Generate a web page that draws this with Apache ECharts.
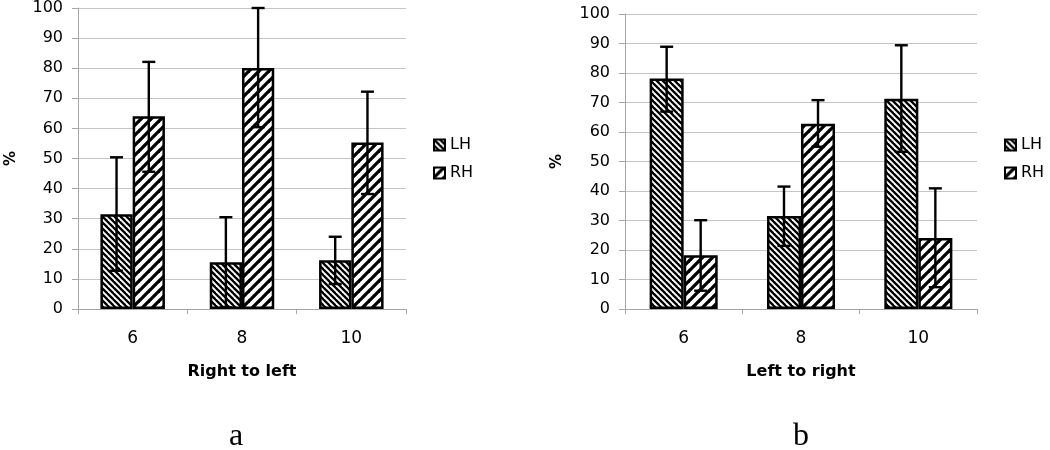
<!DOCTYPE html>
<html>
<head>
<meta charset="utf-8">
<script src="https://cdn.jsdelivr.net/npm/echarts@6/dist/echarts.min.js"></script>
<style>html,body{margin:0;padding:0;background:#fff}#c{width:1050px;height:450px}</style>
</head>
<body>
<div id="c"></div>
<script>
const categories = ['6', '8', '10'];
const seriesNames = ['LH', 'RH'];
// Panel a: Right to left
const aLH = [31.5, 15.5, 16.2];
const aLHLow = [12.7, 0.5, 8.3];
const aLHHigh = [50.4, 30.5, 24.0];
const aRH = [64.0, 80.1, 55.3];
const aRHLow = [45.6, 60.4, 38.2];
const aRHHigh = [82.1, 100, 72.2];
// Panel b: Left to right
const bLH = [78.1, 31.5, 71.3];
const bLHLow = [66.9, 21.4, 53.3];
const bLHHigh = [88.9, 41.5, 89.4];
const bRH = [18.2, 62.8, 24.1];
const bRHLow = [6.2, 55.0, 7.4];
const bRHHigh = [30.1, 70.8, 40.9];
const yTicks = [0, 10, 20, 30, 40, 50, 60, 70, 80, 90, 100];
const panelLabels = ['a', 'b'];

function makePattern(p, lw, dir) {
  const cv = document.createElement('canvas');
  cv.width = p; cv.height = p;
  const ctx = cv.getContext('2d');
  ctx.fillStyle = '#fff';
  ctx.fillRect(0, 0, p, p);
  ctx.strokeStyle = '#000';
  ctx.lineWidth = lw;
  for (let k = -1; k <= 1; k++) {
    ctx.beginPath();
    if (dir === 'back') {
      ctx.moveTo(k * p - 1, -1);
      ctx.lineTo(k * p + p + 1, p + 1);
    } else {
      ctx.moveTo(k * p - 1, p + 1);
      ctx.lineTo(k * p + p + 1, -1);
    }
    ctx.stroke();
  }
  return { image: cv, repeat: 'repeat' };
}
const patLH = makePattern(6, 2.3, 'back');
const patRH = makePattern(10, 3.3, 'fwd');

const FONT = '"DejaVu Sans", "Liberation Sans", sans-serif';
const SERIF = '"Liberation Serif", "DejaVu Serif", serif';
const gapA = 0.41, gapB = 0.42;

function errRender(gap) {
  return function (params, api) {
    const c = api.value(0), lo = api.value(1), hi = api.value(2), s = api.value(3);
    const catW = api.size([1, 0])[0];
    const bw = catW * (1 - gap) / 2;
    const pLo = api.coord([c, lo]);
    const pHi = api.coord([c, hi]);
    const x = pLo[0] + (s === 0 ? -bw / 2 : bw / 2);
    const cap = 6.5;
    const st = { stroke: '#000', lineWidth: 2.4 };
    return {
      type: 'group',
      children: [
        { type: 'line', shape: { x1: x, y1: pLo[1], x2: x, y2: pHi[1] }, style: st },
        { type: 'line', shape: { x1: x - cap, y1: pHi[1], x2: x + cap, y2: pHi[1] }, style: st },
        { type: 'line', shape: { x1: x - cap, y1: pLo[1], x2: x + cap, y2: pLo[1] }, style: st }
      ]
    };
  };
}
function errData(lowL, highL, lowR, highR) {
  const d = [];
  for (let i = 0; i < categories.length; i++) {
    d.push([i, lowL[i], highL[i], 0]);
    d.push([i, lowR[i], highR[i], 1]);
  }
  return d;
}

function xAxis(gi, name) {
  return {
    type: 'category', gridIndex: gi, data: categories,
    axisLine: { lineStyle: { color: '#a6a6a6', width: 1 } },
    axisTick: { show: true, length: 5, lineStyle: { color: '#a6a6a6' } },
    axisLabel: { color: '#000', fontSize: 17, fontFamily: FONT, margin: 21 },
    name: name, nameLocation: 'middle', nameGap: 55,
    nameTextStyle: { color: '#000', fontSize: 16, fontWeight: 'bold', fontFamily: FONT }
  };
}
function yAxis(gi, gap) {
  return {
    type: 'value', gridIndex: gi, min: 0, max: 100, interval: 10,
    axisLine: { show: true, lineStyle: { color: '#a6a6a6', width: 1 } },
    axisTick: { show: true, length: 6, lineStyle: { color: '#a6a6a6' } },
    splitLine: { show: true, lineStyle: { color: '#c4c4c4', width: 1 } },
    axisLabel: { color: '#000', fontSize: 16, fontFamily: FONT, margin: 15,
      formatter: function (v) { return yTicks.indexOf(v) >= 0 ? String(v) : ''; } },
    name: '%', nameLocation: 'middle', nameGap: gap, nameRotate: 90,
    nameTextStyle: { color: '#000', fontSize: 15, fontWeight: 'bold', fontFamily: FONT }
  };
}
function bar(name, gi, data, pat, gap) {
  return {
    type: 'bar', name: name, xAxisIndex: gi, yAxisIndex: gi, data: data,
    barGap: '0%', barCategoryGap: (gap * 100) + '%', z: 2,
    itemStyle: { color: pat, borderColor: '#000', borderWidth: 2.5 },
    emphasis: { disabled: true }, animation: false
  };
}

const option = {
  animation: false,
  backgroundColor: '#fff',
  grid: [
    { left: 78, top: 8, width: 328, height: 301, containLabel: false, outerBoundsMode: 'none' },
    { left: 625, top: 14, width: 352, height: 295, containLabel: false, outerBoundsMode: 'none' }
  ],
  xAxis: [xAxis(0, 'Right to left'), xAxis(1, 'Left to right')],
  yAxis: [yAxis(0, 59), yAxis(1, 60)],
  legend: [
    { data: seriesNames, orient: 'vertical', left: 433, top: 137, padding: 0, itemWidth: 11, itemHeight: 11,
      itemGap: 12, icon: 'rect', selectedMode: false,
      textStyle: { color: '#000', fontSize: 16, fontFamily: FONT } },
    { data: seriesNames, orient: 'vertical', left: 1004, top: 137, padding: 0, itemWidth: 11, itemHeight: 11,
      itemGap: 12, icon: 'rect', selectedMode: false,
      textStyle: { color: '#000', fontSize: 16, fontFamily: FONT } }
  ],
  series: [
    bar('LH', 0, aLH, patLH, gapA),
    bar('RH', 0, aRH, patRH, gapA),
    bar('LH', 1, bLH, patLH, gapB),
    bar('RH', 1, bRH, patRH, gapB),
    { type: 'custom', name: 'errA', xAxisIndex: 0, yAxisIndex: 0, z: 5,
      renderItem: errRender(gapA), data: errData(aLHLow, aLHHigh, aRHLow, aRHHigh),
      encode: { x: 0, y: [1, 2] }, silent: true },
    { type: 'custom', name: 'errB', xAxisIndex: 1, yAxisIndex: 1, z: 5,
      renderItem: errRender(gapB), data: errData(bLHLow, bLHHigh, bRHLow, bRHHigh),
      encode: { x: 0, y: [1, 2] }, silent: true }
  ],
  graphic: [
    { type: 'text', x: 236, y: 437, z: 10, style: { text: panelLabels[0], fontSize: 32, fontFamily: SERIF, fill: '#000', align: 'center', verticalAlign: 'middle' } },
    { type: 'text', x: 801, y: 437, z: 10, style: { text: panelLabels[1], fontSize: 32, fontFamily: SERIF, fill: '#000', align: 'center', verticalAlign: 'middle' } }
  ]
};
const chart = echarts.init(document.getElementById('c'), null, { renderer: 'canvas' });
chart.setOption(option);
</script>
</body>
</html>
